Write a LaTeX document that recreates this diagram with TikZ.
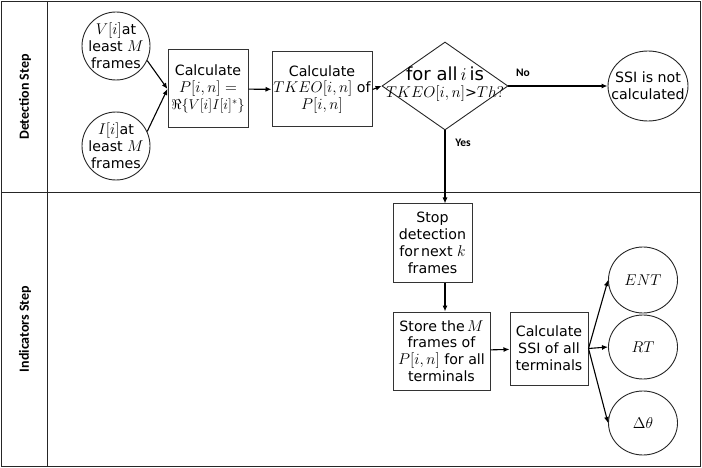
\RequirePackage{fix-cm}
\documentclass[tikz,border=0pt]{standalone}
\usepackage{fontspec}
\setmainfont{DejaVu Sans}
\newfontfamily\lanefont{Carlito}
\usetikzlibrary{shapes.geometric,arrows.meta}
\newcommand\mth[1]{{\fontsize{15.6}{16.8}\selectfont$#1$}}
\begin{document}
\begin{tikzpicture}[x=1pt,y=-1pt,
  every node/.style={font=\fontsize{14.2}{16.8}\selectfont, align=center, inner sep=0pt},
  frameline/.style={draw=black!85, line width=1pt},
  box/.style={draw=black!80, line width=1pt},
  oval/.style={draw=black!85, ellipse, line width=0.9pt},
  flow/.style={-{Latex[length=6pt,width=5pt]}, line width=1.1pt},
  lane/.style={font=\lanefont\bfseries\fontsize{14}{15}\selectfont, rotate=90},
  tag/.style={font=\lanefont\bfseries\fontsize{11.5}{13}\selectfont}]
\useasboundingbox (0,0) rectangle (702,468);
% frame
\draw[frameline] (1,2) rectangle (700,466);
\draw[frameline] (47,2) -- (47,466);
\draw[frameline] (1,192.5) -- (700,192.5);
\node[lane] (l1) at (25,97) {Detection Step};
\node[lane] (l2) at (25,329) {Indicators Step};
% detection
\node[oval, minimum width=68, minimum height=68] (v) at (116,46) {};
\node (vt) at (116,46) {\mth{V[i]}at\\least \mth{M}\\frames};
\node[oval, minimum width=68, minimum height=68] (ii) at (116,146) {};
\node (it) at (116,146) {\mth{I[i]}at\\least \mth{M}\\frames};
\node[box, minimum width=80, minimum height=78] (p) at (208,89) {Calculate\\\mth{P[i,n]=}\\$\Re\{V[i]I[i]^*\}$};
\node[box, minimum width=100, minimum height=75] (t) at (322,89.5) {Calculate\\\mth{TKEO[i,n]} of\\\mth{P[i,n]}};
\node[draw=black!85, diamond, line width=0.9pt, minimum width=126, minimum height=88] (d) at (445,86) {};
\node (dt) at (445,84) {{\fontsize{18}{19}\selectfont for all\,$i$\,is}\\\mth{TKEO[i,n]}>\mth{Th?}};
\node[oval, minimum width=80, minimum height=70] (n) at (648,86) {};
\node (nt) at (648,86) {SSI is not\\calculated};
\node[tag] (no) at (523,73) {No};
\node[tag] (yes) at (463,143) {Yes};
% indicators
\node[box, minimum width=79, minimum height=78] (s) at (432.5,243) {Stop\\detection\\for\,next \mth{k}\\frames};
\node[box, minimum width=97, minimum height=78] (st) at (441.5,351) {Store the\,\mth{M}\\frames of\\\mth{P[i,n]} for all\\terminals};
\node[box, minimum width=78, minimum height=73] (c) at (549,348.5) {Calculate\\SSI of all\\terminals};
\node[oval, minimum width=69, minimum height=66] (e) at (643,280) {\mth{ENT}};
\node[oval, minimum width=69, minimum height=64] (r) at (643,347) {\mth{RT}};
\node[oval, minimum width=69, minimum height=64] (th) at (643,423) {\mth{\Delta\theta}};
% connectors
\draw[flow] (v.-25) -- (p.west);
\draw[flow] (ii.25) -- (p.west);
\draw[flow] (p) -- (t);
\draw[flow] (t.east) -- (d.west);
\draw[flow] (d.east) -- (n.west);
\draw[flow] (d.south) -- (d.south |- s.north);
\draw[flow] (d.south |- s.south) -- (d.south |- st.north);
\draw[flow] (st) -- (c);
\draw[flow] (c.east) -- (e.west);
\draw[flow] (c.east) -- (r.west);
\draw[flow] (c.east) -- (th.west);
\end{tikzpicture}
\end{document}
